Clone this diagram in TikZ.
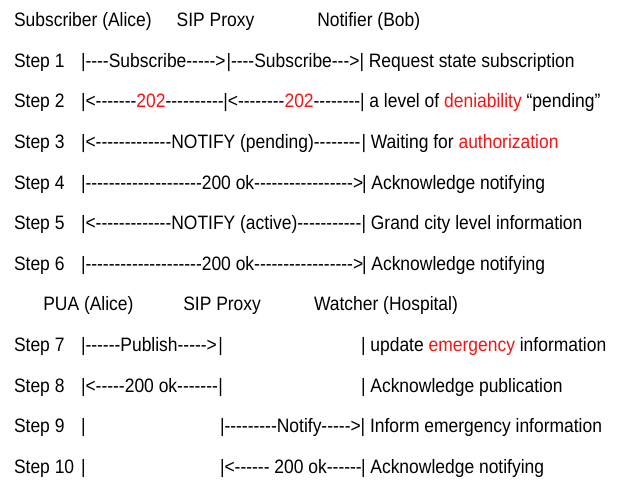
\documentclass[tikz,border=0pt]{standalone}
\usepackage{fontspec}
\setmainfont{Liberation Sans}[Ligatures=TeXOff,FakeStretch=0.9]
\definecolor{hl}{RGB}{245,20,20}
\newcommand\hlt[1]{\textcolor{hl}{#1}}
\begin{document}
\begin{tikzpicture}[x=1pt,y=-1pt,
  txt/.style={anchor=base west,inner sep=0pt,outer sep=0pt,font=\fontsize{19.4}{22}\selectfont,text=black}]
\useasboundingbox (0,0) rectangle (617,482);
% header 1
\node[txt] (h1a) at (14,26.7) {Subscriber (Alice)};
\node[txt] (h1b) at (176.7,26.7) {SIP Proxy};
\node[txt] (h1c) at (317.3,26.7) {Notifier (Bob)};
% step 1
\node[txt] (s1) at (14,67.3) {Step 1};
\node[txt] (m1a) at (81,67.3) {|----Subscribe----->};
\node[txt] (m1b) at (226.5,67.3) {|----Subscribe--->};
\node[txt] (m1c) at (359.5,67.3) {| Request state subscription};
% step 2
\node[txt] (s2) at (14,107.9) {Step 2};
\node[txt] (m2a) at (81,107.9) {|<-------\hlt{202}----------};
\node[txt] (m2b) at (223.3,107.9) {|<--------\hlt{202}--------};
\node[txt] (m2c) at (360,107.9) {| a level of \hlt{deniability} “pending”};
% step 3
\node[txt] (s3) at (14,148.5) {Step 3};
\node[txt] (m3a) at (81,148.5) {|<-------------NOTIFY (pending)--------};
\node[txt] (m3c) at (361.5,148.5) {| Waiting for \hlt{authorization}};
% step 4
\node[txt] (s4) at (14,189.1) {Step 4};
\node[txt] (m4a) at (81,189.1) {|--------------------200 ok----------------->};
\node[txt] (m4c) at (362,189.1) {| Acknowledge notifying};
% step 5
\node[txt] (s5) at (14,229.7) {Step 5};
\node[txt] (m5a) at (81,229.7) {|<-------------NOTIFY (active)-----------};
\node[txt] (m5c) at (361.5,229.7) {| Grand city level information};
% step 6
\node[txt] (s6) at (14,270.3) {Step 6};
\node[txt] (m6a) at (81,270.3) {|--------------------200 ok----------------->};
\node[txt] (m6c) at (362,270.3) {| Acknowledge notifying};
% header 2
\node[txt] (h2a) at (43.3,310.9) {PUA (Alice)};
\node[txt] (h2b) at (183.3,310.9) {SIP Proxy};
\node[txt] (h2c) at (314,310.9) {Watcher (Hospital)};
% step 7
\node[txt] (s7) at (14,351.5) {Step 7};
\node[txt] (m7a) at (81,351.5) {|------Publish----->};
\node[txt] (m7b) at (218.3,351.5) {|};
\node[txt] (m7c) at (361,351.5) {| update \hlt{emergency} information};
% step 8
\node[txt] (s8) at (14,392.1) {Step 8};
\node[txt] (m8a) at (81,392.1) {|<-----200 ok-------};
\node[txt] (m8b) at (218.3,392.1) {|};
\node[txt] (m8c) at (361,392.1) {| Acknowledge publication};
% step 9
\node[txt] (s9) at (14,432.7) {Step 9};
\node[txt] (m9a) at (81,432.7) {|};
\node[txt] (m9b) at (220,432.7) {|---------Notify----->};
\node[txt] (m9c) at (360.7,432.7) {| Inform emergency information};
% step 10
\node[txt] (s10) at (14,473.3) {Step 10};
\node[txt] (m10a) at (81,473.3) {|};
\node[txt] (m10b) at (220,473.3) {|<------ 200 ok------};
\node[txt] (m10c) at (361,473.3) {| Acknowledge notifying};
\end{tikzpicture}
\end{document}
